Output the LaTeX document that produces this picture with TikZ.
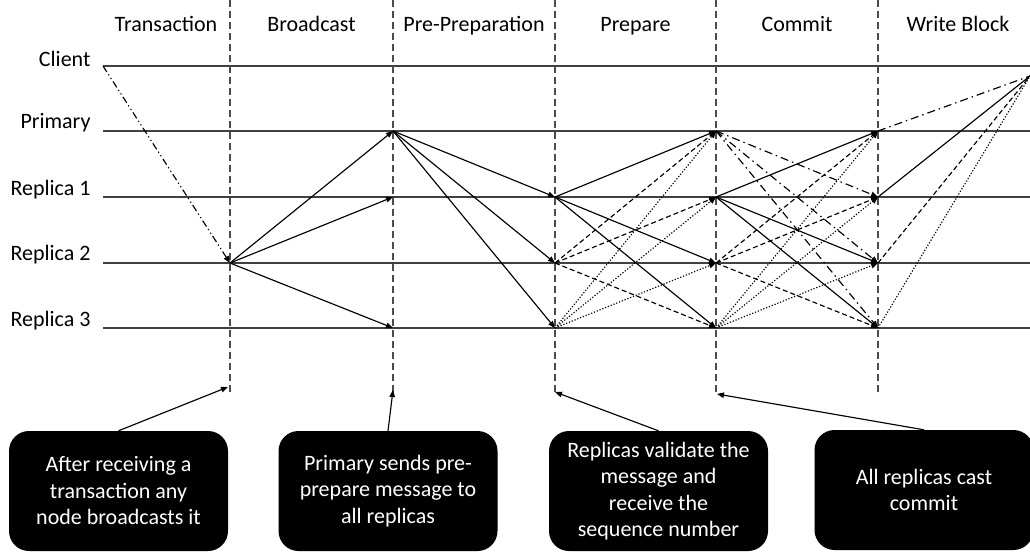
\documentclass[tikz,border=0pt]{standalone}
\usepackage{fontspec}
\setmainfont{Carlito}
\usetikzlibrary{arrows.meta}

\begin{document}
\begin{tikzpicture}[x=1pt, y=-1pt,
  every node/.style={font=\fontsize{22}{26.5}\selectfont},
  lifeline/.style={draw=black!75, line width=1.4pt},
  phase/.style={draw=black!70, line width=1.2pt, dash pattern=on 7pt off 4pt},
  msg/.style={draw=black, line width=1.15pt, -{Triangle[length=7pt,width=5.5pt]}},
  plain/.style={draw=black, line width=1.15pt},
  dsh/.style={dash pattern=on 5pt off 3pt},
  dtt/.style={dash pattern=on 1.2pt off 1.8pt},
  dshdot/.style={dash pattern=on 8pt off 4pt on 1.5pt off 4pt},
  dshdotdot/.style={dash pattern=on 7pt off 3pt on 1.2pt off 3pt on 1.2pt off 3pt},
  label/.style={anchor=base east},
  phasename/.style={anchor=base},
  note/.style={fill=black, text=white, rounded corners=20pt, align=center,
    inner sep=0pt, minimum width=219pt, minimum height=120pt},
  callout/.style={draw=black, line width=1.15pt, -{Triangle[length=7pt,width=5.5pt]}}
]
\useasboundingbox (0,0) rectangle (1030,552);

% process lifelines
\foreach \r/\y in {C/66, P/131, R1/197, R2/263, R3/328} {
  \coordinate (\r0) at (103,\y);
  \coordinate (\r1) at (230,\y);
  \coordinate (\r2) at (393,\y);
  \coordinate (\r3) at (555,\y);
  \coordinate (\r4) at (716,\y);
  \coordinate (\r5) at (878,\y);
  \coordinate (\r6) at (1030,\y);
}
\foreach \r in {C, P, R1, R2, R3}
  \draw[lifeline] (\r0) -- (\r6);

% process names
\node[label] (nC)  at (94,66)  {Client};
\node[label] (nP)  at (94,128) {Primary};
\node[label] (nR1) at (94,195) {Replica 1};
\node[label] (nR2) at (94,260) {Replica 2};
\node[label] (nR3) at (94,326) {Replica 3};

% phase separators
\foreach \i/\x in {1/230, 2/393, 3/555, 4/716, 5/878} {
  \coordinate (t\i) at (\x,0);
  \coordinate (b\i) at (\x,393);
  \draw[phase] (t\i) -- (b\i);
}

% phase names
\node[phasename] (hTx) at (166,31)   {Transaction};
\node[phasename] (hBc) at (311.5,31) {Broadcast};
\node[phasename] (hPp) at (474,31)   {Pre-Preparation};
\node[phasename] (hPr) at (635.5,31) {Prepare};
\node[phasename] (hCm) at (797,31)   {Commit};
\node[phasename] (hWb) at (958,31)   {Write Block};

% transaction from the client
\draw[msg, dshdotdot] (C0) -- (R21);

% broadcast
\foreach \t in {P2, R12, R32} \draw[msg] (R21) -- (\t);

% pre-preparation
\foreach \t in {R13, R23, R33} \draw[msg] (P2) -- (\t);

% prepare
\foreach \t in {P4, R24, R34} \draw[msg] (R13) -- (\t);
\foreach \t in {P4, R14, R34} \draw[msg, dsh] (R23) -- (\t);
\foreach \t in {P4, R14, R24} \draw[msg, dtt] (R33) -- (\t);

% commit
\foreach \t in {R15, R25, R35} \draw[msg, dshdot] (P4) -- (\t);
\foreach \t in {P5, R25, R35} \draw[msg] (R14) -- (\t);
\foreach \t in {P5, R15, R35} \draw[msg, dsh] (R24) -- (\t);
\foreach \t in {P5, R15, R25} \draw[msg, dtt] (R34) -- (\t);

% write block
\coordinate (W) at (1030,76);
\draw[plain, dshdot] (P5) -- (W);
\draw[plain] (R15) -- (W);
\draw[plain, dsh] (R25) -- (W);
\draw[plain, dtt] (R35) -- (W);

% explanatory notes
\node[note] (n1) at (118.5,491) {After receiving a\\transaction any\\node broadcasts it};
\node[note] (n2) at (388,491)   {Primary sends pre-\\prepare message to\\all replicas};
\node[note] (n3) at (658.5,491) {Replicas validate the\\message and\\receive the\\sequence number};
\node[note] (n4) at (924,490)   {All replicas cast\\commit};

\coordinate (a1) at (228,387);
\coordinate (a2) at (393,390);
\coordinate (a3) at (555,392);
\coordinate (a4) at (717,394);
\draw[callout] (n1.north) -- (a1);
\draw[callout] (n2.north) -- (a2);
\draw[callout] (n3.north) -- (a3);
\draw[callout] (n4.north) -- (a4);
\end{tikzpicture}
\end{document}
